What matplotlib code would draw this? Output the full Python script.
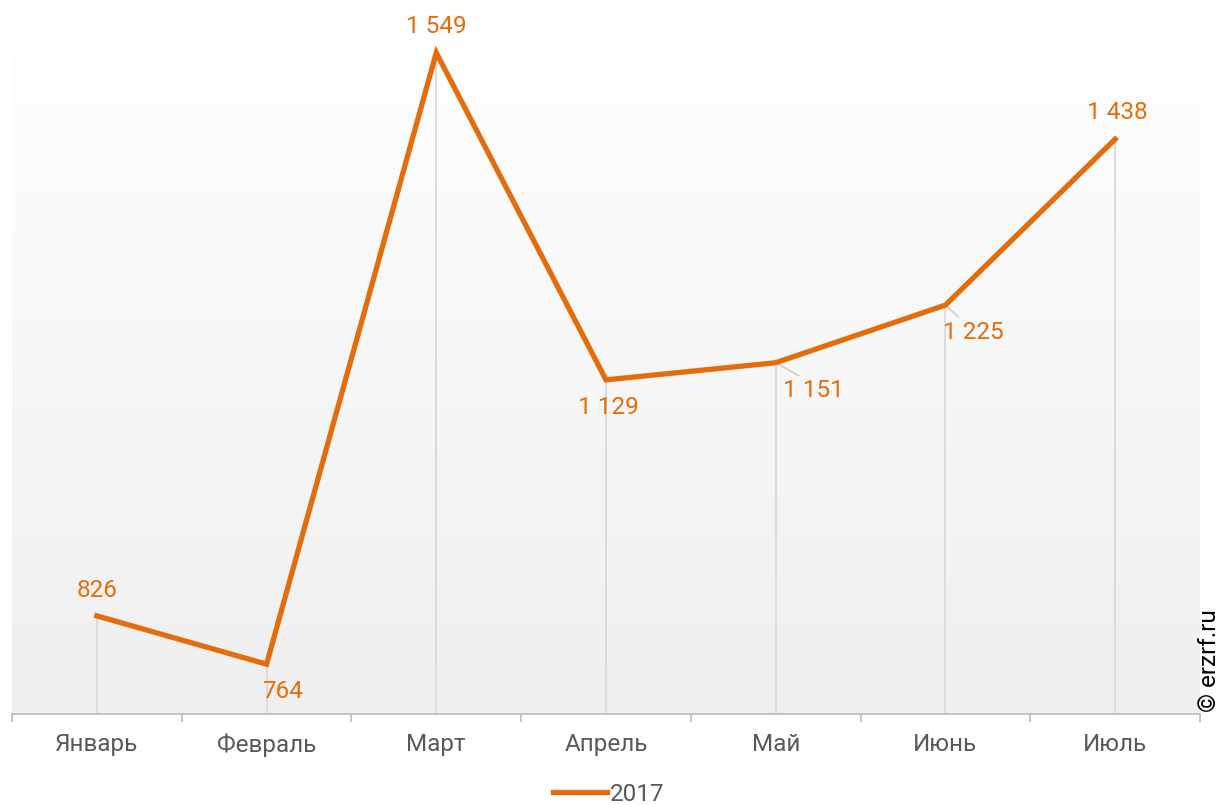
import matplotlib
matplotlib.use("Agg")
import matplotlib.pyplot as plt
import numpy as np
from matplotlib.colors import LinearSegmentedColormap

plt.rcParams['font.family'] = ['Roboto', 'DejaVu Sans']

months = ["Январь", "Февраль", "Март", "Апрель", "Май", "Июнь", "Июль"]
values = [826, 764, 1549, 1129, 1151, 1225, 1438]
series_name = "2017"
# label offsets in pixels (dx, dy up)
label_offsets = [(0, 25), (16, -27), (0, 26), (2, -28), (38, -28), (28, -27), (2, 27)]
leader = [False, False, False, False, True, True, False]

ORANGE = "#E46C0A"
W, H = 1221, 805
fig = plt.figure(figsize=(W / 100, H / 100), dpi=100)
left, right, top, bottom = 12, 1200, 13, 714
ax = fig.add_axes([left / W, 1 - bottom / H, (right - left) / W, (bottom - top) / H])

ymin, ymax = 700, 1600
x = np.arange(len(months))
ax.set_xlim(-0.5, len(months) - 0.5)
ax.set_ylim(ymin, ymax)

# gradient background
cmap = LinearSegmentedColormap.from_list("bg", ["#efefef", "#ffffff"])
grad = np.linspace(0, 1, 256).reshape(-1, 1)
ax.imshow(grad, cmap=cmap, aspect="auto", extent=(-0.5, len(months) - 0.5, ymin, ymax),
          origin="lower", zorder=0)

# drop lines
ax.vlines(x, ymin, values, colors="#d9d9d9", lw=1.3, zorder=1)

ax.plot(x, values, color=ORANGE, lw=3.8, solid_joinstyle="miter", zorder=3, label=series_name)

px2pt = 0.72
for xi, v, (dx, dy), ld in zip(x, values, label_offsets, leader):
    txt = f"{v:,}".replace(",", " ")
    ax.annotate(txt, (xi, v), xytext=(dx * px2pt, dy * px2pt), textcoords="offset points",
                ha="center", va="center", color=ORANGE, fontsize=17.5, zorder=4)
    if ld:
        ax.annotate("", (xi, v), xytext=((dx - 15) * px2pt, (dy + 15) * px2pt),
                    textcoords="offset points",
                    arrowprops=dict(arrowstyle="-", color="#d0d0d0", lw=1.3,
                                    shrinkA=0, shrinkB=0), zorder=2)

for s in ["top", "right", "left"]:
    ax.spines[s].set_visible(False)
ax.spines["bottom"].set_color("#bfbfbf")
ax.spines["bottom"].set_linewidth(1.3)
ax.set_yticks([])
ax.set_xticks(x)
ax.set_xticklabels(months, fontsize=17.5, color="#595959")
ax.tick_params(axis="x", which="major", length=0, pad=14)
ax.set_xticks(np.arange(-0.5, len(months)), minor=True)
ax.tick_params(axis="x", which="minor", length=6, color="#bfbfbf", width=1.3)

leg = fig.legend(handles=ax.get_lines(), loc="center", bbox_to_anchor=(609 / W, 1 - 794 / H),
                 frameon=False, fontsize=17.5, handlelength=2.2, handletextpad=0.15,
                 borderpad=0.1)
for t in leg.get_texts():
    t.set_color("#595959")

fig.text(1209 / W, 1 - 661 / H, "© erzrf.ru", rotation=90, ha="center", va="center",
         fontsize=17.5, color="black")

fig.savefig("out.png", dpi=100, facecolor="white")
